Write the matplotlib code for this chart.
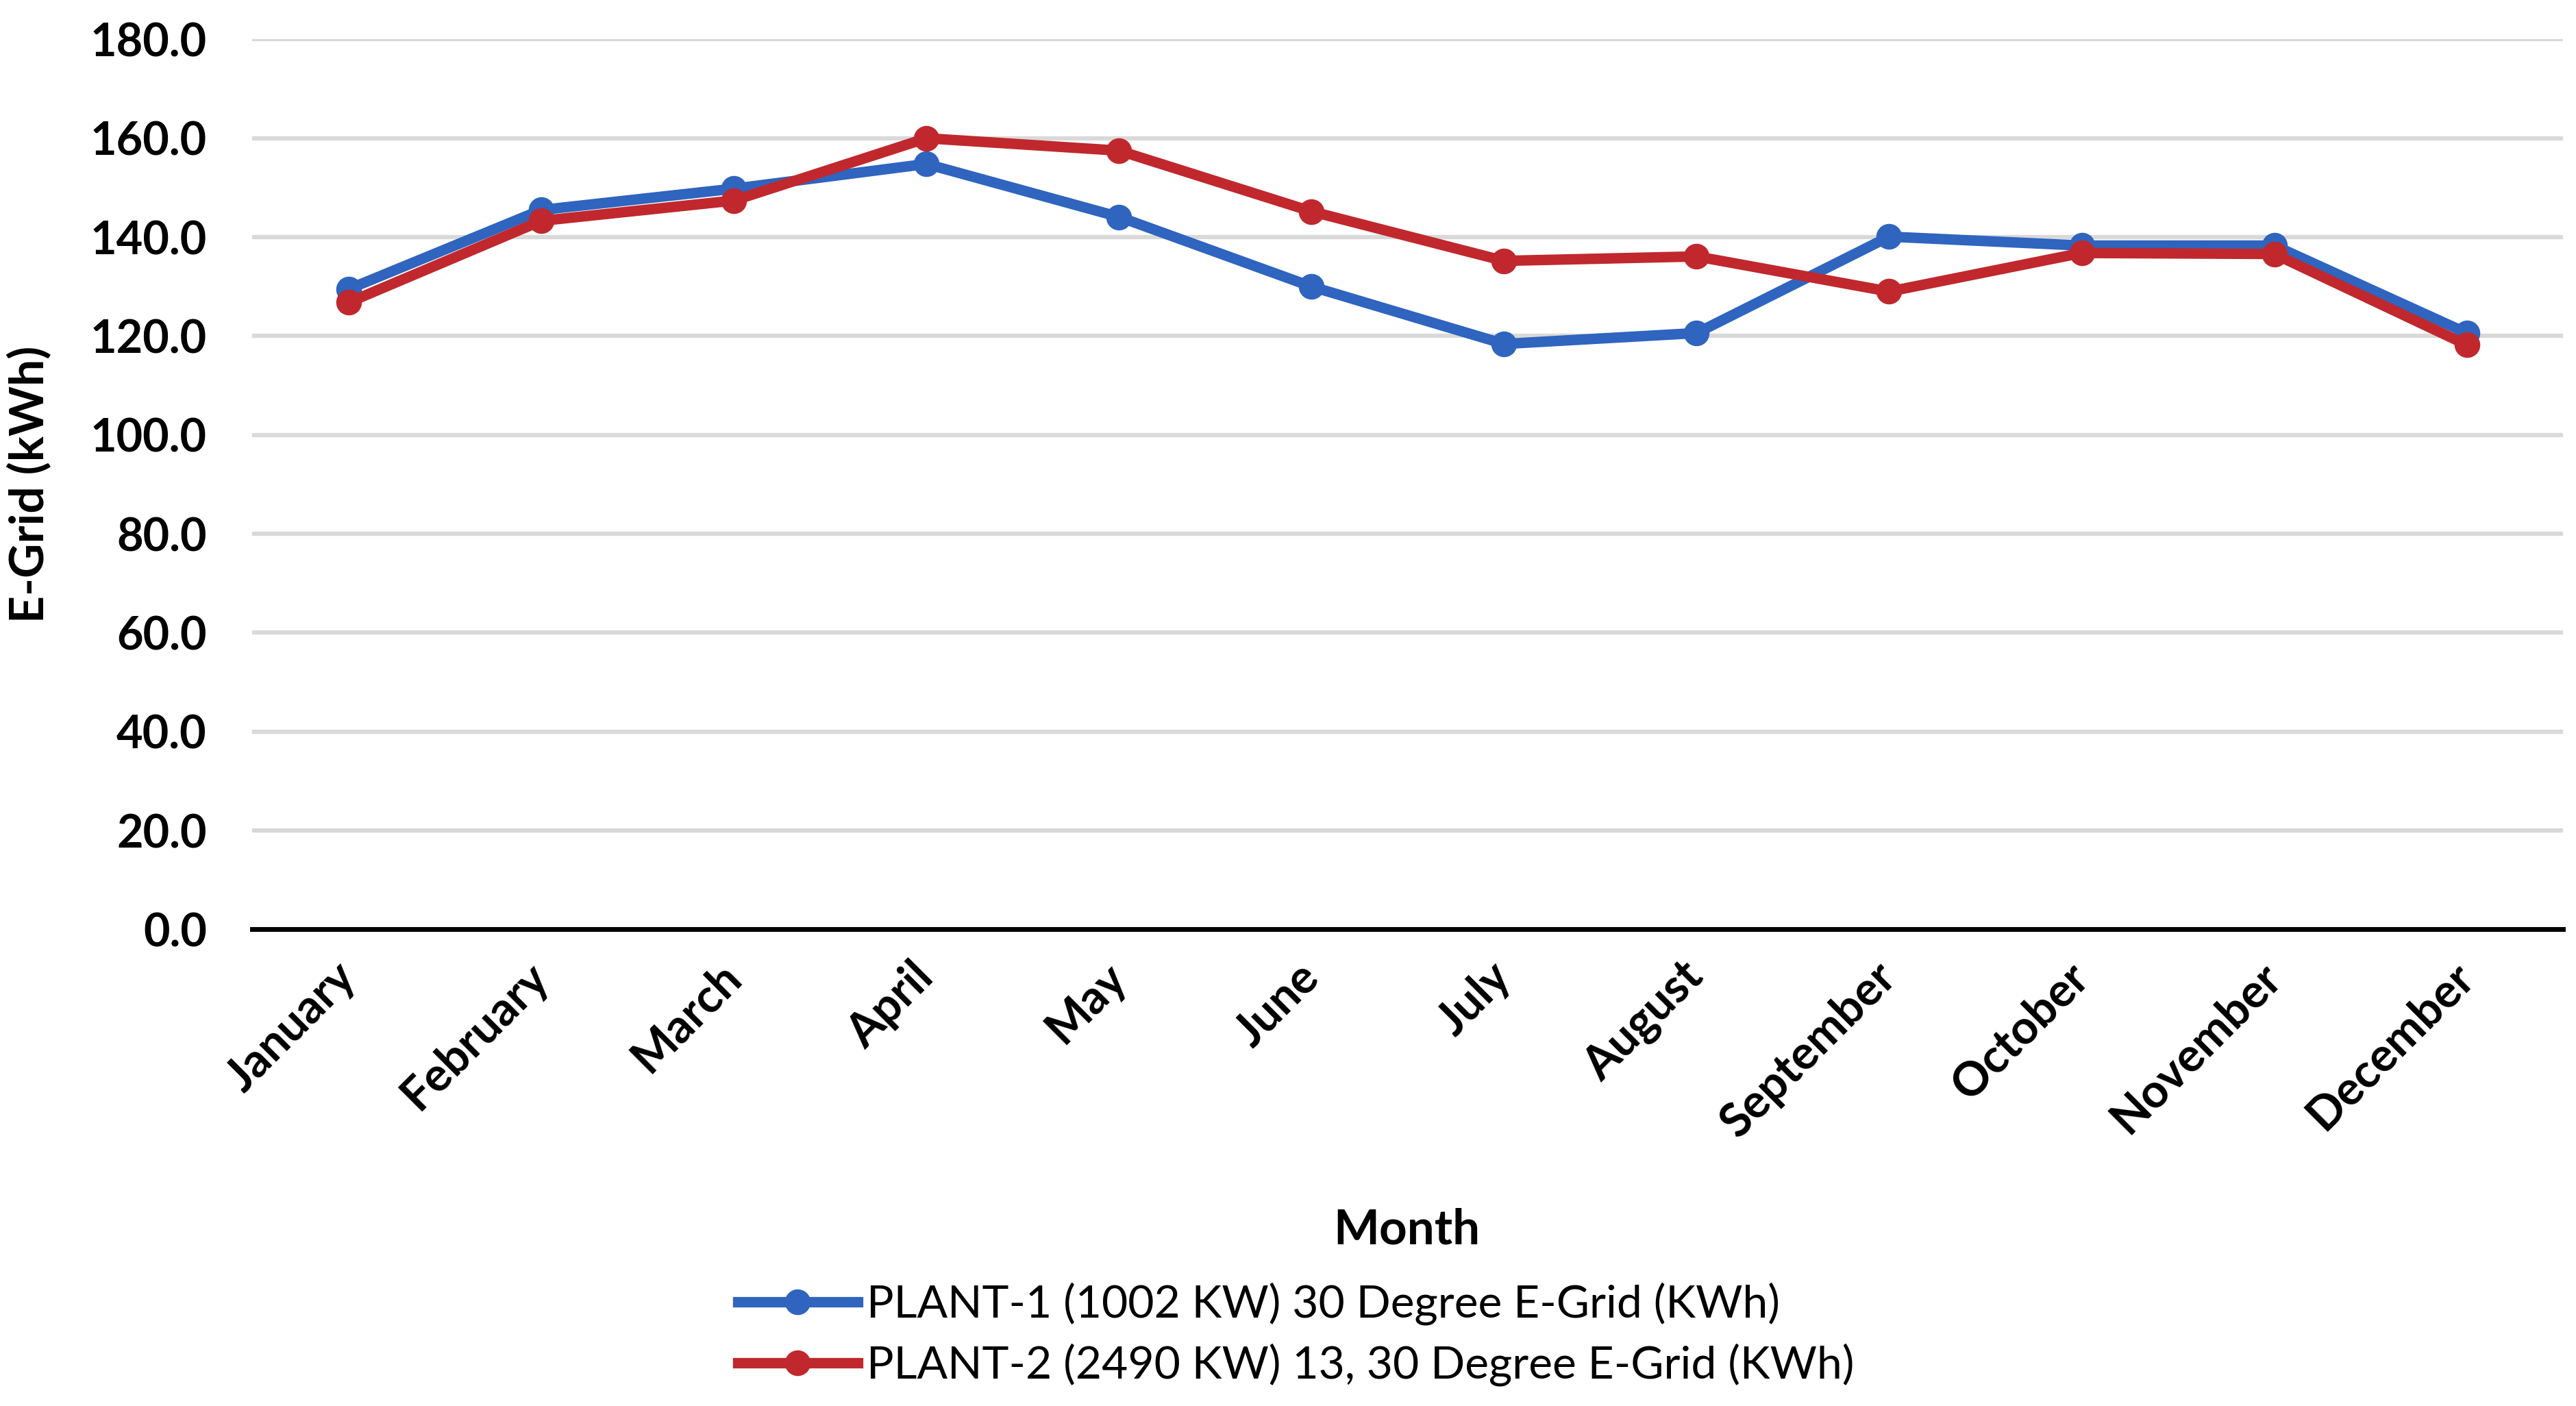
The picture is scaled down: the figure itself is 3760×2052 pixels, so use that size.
import matplotlib
matplotlib.use("Agg")
import matplotlib.pyplot as plt

months = ["January", "February", "March", "April", "May", "June", "July",
          "August", "September", "October", "November", "December"]
plant1 = [129.5, 145.5, 149.8, 154.8, 144.1, 130.0, 118.4, 120.6, 140.1,
          138.3, 138.3, 120.6]
plant2 = [126.8, 143.3, 147.4, 160.0, 157.5, 145.2, 135.2, 136.1, 129.0,
          136.8, 136.6, 118.2]
labels = ["PLANT-1 (1002 KW) 30 Degree E-Grid (KWh)",
          "PLANT-2 (2490 KW) 13, 30 Degree E-Grid (KWh)"]
yticks = [0, 20, 40, 60, 80, 100, 120, 140, 160, 180]

BLUE = "#2F64BF"
RED = "#C0282D"

plt.rcParams["font.family"] = ["Lato", "DejaVu Sans"]

fig = plt.figure(figsize=(37.6, 20.52), dpi=100)
ax = fig.add_axes([0.098, 0.339, 0.897, 0.633])

x = list(range(len(months)))
for vals, col, lab in [(plant1, BLUE, labels[0]), (plant2, RED, labels[1])]:
    ax.plot(x, vals, color=col, lw=11, marker="o", ms=26,
            markerfacecolor=col, markeredgecolor=col, label=lab,
            solid_joinstyle="round", zorder=3)

ax.set_xlim(-0.5, len(months) - 0.5)
ax.set_ylim(0, 180)
ax.set_yticks(yticks)
ax.set_yticklabels([f"{v:.1f}" for v in yticks], fontsize=48, fontweight="bold")
ax.set_xticks(x)
ax.set_xticklabels(months, rotation=45, ha="right", va="center",
                   rotation_mode="anchor", fontsize=49, fontweight="bold")
ax.tick_params(axis="y", length=0, pad=48)
ax.tick_params(axis="x", length=0, pad=43)

ax.grid(axis="y", color="#D9D9D9", lw=4.5, zorder=0)
for s in ["top", "right", "left"]:
    ax.spines[s].set_visible(False)
ax.spines["bottom"].set_color("black")
ax.spines["bottom"].set_linewidth(5)
ax.spines["bottom"].set_zorder(4)

ax.set_ylabel("E-Grid (kWh)", fontsize=50, fontweight="bold", labelpad=40)
fig.text(0.546, 0.125, "Month", fontsize=51, fontweight="bold",
         ha="center", va="center")

fig.legend(loc="upper left", bbox_to_anchor=(0.2864, 0.088), frameon=False,
           fontsize=47.5, handlelength=2.65, handletextpad=0.2, labelspacing=0.4,
           borderpad=0, borderaxespad=0)

fig.savefig("out.png", dpi=100)
